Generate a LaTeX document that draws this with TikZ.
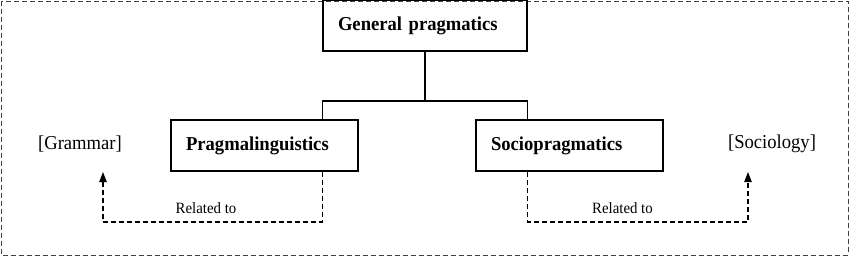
\documentclass[tikz,border=0pt]{standalone}
\usepackage{fontspec}
\setmainfont[FakeStretch=0.946]{Liberation Serif}
\usetikzlibrary{arrows.meta}
\begin{document}
\begin{tikzpicture}[x=0.03cm, y=-0.03cm, line width=1.1pt,
  box/.style={draw, line width=1.3pt, align=left, inner xsep=0.45cm, inner ysep=0pt,
    minimum height=1.53cm, font=\fontsize{16.8}{20}\selectfont\bfseries},
  field/.style={font=\fontsize{16.8}{20}\selectfont},
  rel/.style={font=\fontsize{13.4}{16}\selectfont, inner sep=2pt, yshift=0.15cm},
  link/.style={dash pattern=on 0.15cm off 0.09cm, -{Triangle[length=0.3cm,width=0.22cm]}}]
  \useasboundingbox (0,0) rectangle (850,257);
  % outer frame
  \draw[line width=0.7pt, dash pattern=on 0.15cm off 0.09cm, black!75] (1,1) rectangle (848,255);
  % boxes
  \node[box, text width=5.22cm] (gen) at (425,25.5) {General pragmatics};
  \node[box, text width=4.71cm] (prag) at (264.5,145.5) {Pragmalinguistics};
  \node[box, text width=4.71cm] (socio) at (569.5,145.5) {Sociopragmatics};
  \node[field] (gram) at (80,144) {[Grammar]};
  \node[field] (soc) at (772,144) {[Sociology]};
  \coordinate (jn) at (425,101);
  \coordinate (low) at (425,222);
  \coordinate (gtip) at (103,172);
  \coordinate (stip) at (748,172);
  % tree lines
  \draw (gen.south) -- (jn);
  \draw (gen.south west |- jn) -- (gen.south east |- jn);
  \draw (gen.south west |- jn) -- (gen.south west |- prag.north);
  \draw (gen.south east |- jn) -- (gen.south east |- socio.north);
  % related to
  \draw[link] (gen.south west |- prag.south) -- (gen.south west |- low)
    -- node[rel, above, pos=0.53] {Related to} (gtip |- low) -- (gtip);
  \draw[link] (gen.south east |- socio.south) -- (gen.south east |- low)
    -- node[rel, above, pos=0.43] {Related to} (stip |- low) -- (stip);
\end{tikzpicture}
\end{document}
